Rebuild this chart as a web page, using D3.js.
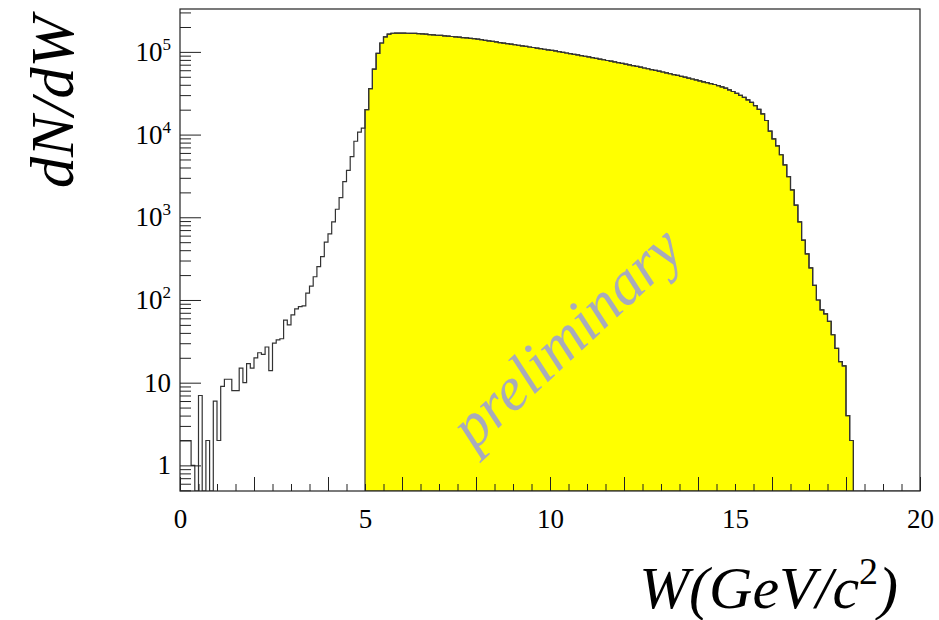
<!DOCTYPE html>
<html><head><meta charset="utf-8">
<script src="https://cdn.jsdelivr.net/npm/d3@7/dist/d3.min.js"></script>
<style>body{margin:0;background:#fff}svg{display:block}</style>
</head><body>
<svg id="chart" width="939" height="620"></svg>
<script>
// ---- data ----
const binWidth = 0.1;          // GeV/c^2 per bin
const lowStart = 0;            // first bin edge of the low-W part
const selStart = 5;            // first bin edge of the selected (W>5) part
const countsLow = [2,2,2,1,0,7,0,2,0,6,
  2,9,11,11,8,8,15,10,17,15,
  20,23,22,27,14,30,33,34,57,50,
  66,78,83,85,121,147,191,253,335,500,
  630,880,1250,1730,2700,3700,5400,8300,10700,12000];
const countsSelected = [20000,36000,62000,96000,128000,152000,164000,168000,169000,169000,
  168500,168000,167500,167000,166000,165000,163500,162000,160500,159000,
  158000,156000,155000,153500,152000,150500,149000,147500,146000,145000,
  142600,140300,138000,135800,134000,131800,129700,127900,125900,123900,
  121900,120200,118300,116400,114600,113000,111200,109400,107600,105900,
  104200,102600,100700,98900,97000,95300,93500,91800,90200,88500,
  86900,85100,83600,81800,80300,78700,77300,75700,74300,72800,
  71300,69700,68200,66700,65300,63800,62500,61100,59800,58500,
  57100,55700,54400,53100,51900,50600,49400,48200,47000,45800,
  44700,43500,42500,41400,40300,39100,37800,36400,34800,33200,
  31500,29800,28200,26300,24500,22400,20200,17800,14800,11000,
  8850,7300,5700,4300,3100,2150,1400,880,530,360,
  245,150,100,76,68,55,38,26,18,16,
  4,2];
const xLabelValues = [0,5,10,15,20];
const yMajorValues = [1,10,100,1000,10000,100000];
const yLabelExps = [null,null,"2","3","4","5"];
const xTitle = "W(GeV/c";
const yTitle = "dN/dW";
const watermark = "preliminary";

// ---- layout ----
const L = 180, R = 920, T = 9, B = 491;
const svg = d3.select("#chart");
const x = d3.scaleLinear().domain([0, 20]).range([L, R]);
const y = d3.scaleLog().domain([0.49, 3.3e5]).range([B, T]);
const yv = v => v > 0 ? Math.min(B, y(v)) : B;
const serif = "'Liberation Serif','DejaVu Serif',serif";

svg.append("clipPath").attr("id","clip").append("rect")
  .attr("x",L).attr("y",T).attr("width",R-L).attr("height",B-T);

function stepPts(counts, start){
  const pts = [];
  counts.forEach((c,i)=>{
    const lo = start + i*binWidth, hi = lo + binWidth;
    pts.push([x(lo), yv(c)], [x(hi), yv(c)]);
  });
  return pts;
}
const line = d3.line();
const g = svg.append("g").attr("clip-path","url(#clip)");

// yellow selected histogram
const selEnd = selStart + countsSelected.length*binWidth;
const yellowPts = [[x(selStart), B]].concat(stepPts(countsSelected, selStart), [[x(selEnd), B]]);
g.append("path").attr("d", line(yellowPts)+"Z")
  .attr("fill","#ffff00").attr("stroke","#333").attr("stroke-width",1.2);

// watermark
svg.append("text").text(watermark)
  .attr("transform","translate(580,352) rotate(-43)")
  .attr("text-anchor","middle").attr("font-family",serif).attr("font-style","italic")
  .attr("font-size",62).attr("fill","#a8abbb");

// full outline histogram
const allCounts = countsLow.concat(countsSelected);
const allEnd = lowStart + allCounts.length*binWidth;
const outlinePts = stepPts(allCounts, lowStart).concat([[x(allEnd), B], [x(20), B]]);
g.append("path").attr("d", line(outlinePts))
  .attr("fill","none").attr("stroke","#333").attr("stroke-width",1.2);

// ---- axes ----
const axisStyle = sel => { sel.select(".domain").remove(); sel.selectAll("line").attr("stroke","#222"); };
svg.append("g").attr("transform",`translate(0,${B})`)
  .call(d3.axisBottom(x).tickValues(d3.range(0, 20.01, 0.5)).tickSize(-7).tickFormat(""))
  .call(axisStyle);
svg.append("g").attr("transform",`translate(0,${B})`)
  .call(d3.axisBottom(x).tickValues(d3.range(0, 20.01, 2)).tickSize(-14).tickFormat(""))
  .call(axisStyle);
const xl = svg.append("g").attr("transform",`translate(0,${B})`)
  .call(d3.axisBottom(x).tickValues(xLabelValues).tickSize(0).tickPadding(18).tickFormat(d=>d));
xl.select(".domain").remove();
xl.selectAll("text").attr("font-family",serif).attr("font-size",27).attr("fill","#000");

const minor = [];
for (let e=-1; e<=5; e++) for (let m=2; m<=9; m++){ const v=m*Math.pow(10,e); if (v>=0.49 && v<=3.3e5) minor.push(v); }
svg.append("g").attr("transform",`translate(${L},0)`)
  .call(d3.axisLeft(y).tickValues(minor).tickSize(-11).tickFormat(""))
  .call(axisStyle);
svg.append("g").attr("transform",`translate(${L},0)`)
  .call(d3.axisLeft(y).tickValues(yMajorValues).tickSize(-21).tickFormat(""))
  .call(axisStyle);
yMajorValues.forEach((v,i)=>{
  const t = svg.append("text").attr("x",171).attr("y",y(v)+9)
    .attr("text-anchor","end").attr("font-family",serif).attr("font-size",27).attr("fill","#000");
  if (yLabelExps[i]===null) t.text(String(v));
  else { t.append("tspan").text("10"); t.append("tspan").attr("dy",-11).attr("font-size",17).text(yLabelExps[i]); }
});

svg.append("rect").attr("x",L).attr("y",T).attr("width",R-L).attr("height",B-T)
  .attr("fill","none").attr("stroke","#222").attr("stroke-width",1.2);

const xt = svg.append("text").attr("x",898).attr("y",608).attr("text-anchor","end")
  .attr("font-family",serif).attr("font-style","italic").attr("font-size",60).attr("fill","#000");
xt.append("tspan").text(xTitle);
xt.append("tspan").attr("dy",-24).attr("font-size",38).attr("font-style","normal").text("2");
xt.append("tspan").attr("dy",24).text(")");

svg.append("text").attr("transform","translate(73,102) rotate(-90)").attr("text-anchor","middle")
  .attr("font-family",serif).attr("font-style","italic").attr("font-size",62).attr("fill","#000")
  .text(yTitle);
</script>
</body></html>
